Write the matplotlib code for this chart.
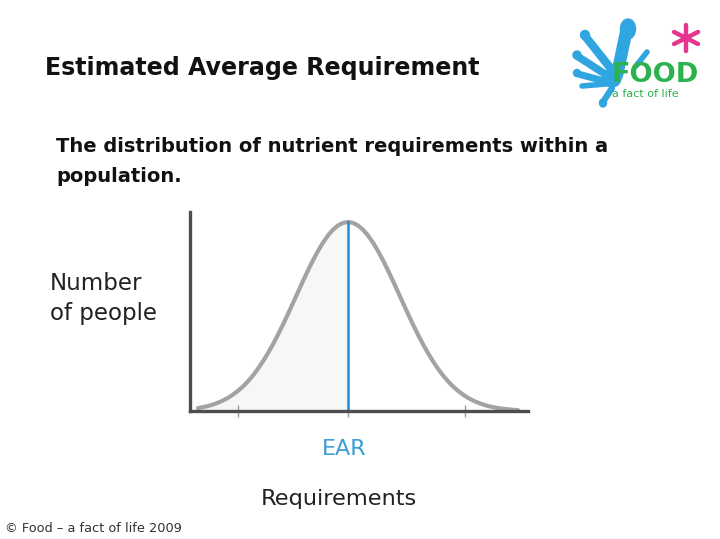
import matplotlib
matplotlib.use("Agg")
import matplotlib.pyplot as plt
from matplotlib.patches import Ellipse

# ---- data ----
# offset from EAR (arbitrary requirement units) and number of people (arbitrary units)
req = [-150, -145, -140, -135, -130, -125, -120, -115, -110, -105, -100, -95, -90, -85, -80, -75, -70, -65,
       -60, -55, -50, -45, -40, -35, -30, -25, -20, -15, -10, -5,
       0, 5, 10, 15, 20, 25, 30, 35, 40, 45, 50, 55, 60, 65, 70, 75, 80, 85, 90, 95,
       100, 105, 110, 115, 120, 125, 130, 135, 140, 145, 150, 155, 160, 165, 170]
people = [2.9, 3.9, 5.0, 6.5, 8.3, 10.5, 13.2, 16.4, 20.2, 24.6, 29.7, 35.6, 42.3, 49.7, 57.9, 66.8, 76.4, 86.5,
          97.1, 108.0, 119.0, 130.0, 140.6, 150.7, 160.0, 168.4, 175.5, 181.3, 185.5, 188.1,
          189.0, 188.1, 185.5, 181.3, 175.5, 168.4, 160.0, 150.7, 140.6, 130.0, 119.0, 108.0, 97.1, 86.5, 76.4,
          66.8, 57.9, 49.7, 42.3, 35.6,
          29.7, 24.6, 20.2, 16.4, 13.2, 10.5, 8.3, 6.5, 5.0, 3.9, 2.9, 2.2, 1.7, 1.2, 0.9]
ear_value = 0
tick_positions = [-110, 0, 117]

title = "Estimated Average Requirement"
subtitle_lines = ["The distribution of nutrient requirements within a", "population."]
ylabel_lines = ["Number", "of people"]
xlabel = "Requirements"
ear_label = "EAR"
copyright_text = "\u00a9 Food \u2013 a fact of life 2009"

W, H = 720, 539
fig = plt.figure(figsize=(W / 100, H / 100), dpi=100)
fig.patch.set_facecolor("white")

def fx(x):
    return x / W

def fy(y):
    return 1 - y / H

font = "DejaVu Sans"

# ---- main axes ----
ax = fig.add_axes([fx(190), fy(411), (528 - 190) / W, (411 - 212) / H])
ax.set_xlim(-158, 180)
ax.set_ylim(0, 199)
left_x = [r for r in req if r <= ear_value]
left_y = [p for r, p in zip(req, people) if r <= ear_value]
ax.fill_between(left_x, 0, left_y, color="#f7f7f7", zorder=1)
ax.plot(req, people, color="#a3a3a3", lw=3.0, solid_capstyle="round", solid_joinstyle="round",
        zorder=2, clip_on=False)
ax.plot([ear_value, ear_value], [0, people[req.index(ear_value)]], color="#1f8fd6", lw=1.8, zorder=3)

for s in ["top", "right"]:
    ax.spines[s].set_visible(False)
for s in ["left", "bottom"]:
    ax.spines[s].set_color("#4d4d4d")
    ax.spines[s].set_linewidth(2.4)
    ax.spines[s].set_zorder(4)
ax.set_xticks(tick_positions)
ax.set_xticklabels([])
ax.set_yticks([])
ax.tick_params(axis="x", direction="inout", length=8, width=1, color="#9a9a9a")

# ---- texts ----
fig.text(fx(45), fy(75), title, fontsize=17.1, fontweight="bold", family=font, color="#111111", va="baseline")
for i, line in enumerate(subtitle_lines):
    fig.text(fx(56), fy(152 + 30 * i), line, fontsize=14.0, fontweight="bold", family=font,
             color="#111111", va="baseline")
for i, line in enumerate(ylabel_lines):
    fig.text(fx(50), fy(290 + 30 * i), line, fontsize=16.5, family=font, color="#222222", va="baseline")
fig.text(fx(344), fy(455), ear_label, fontsize=16, family=font, color="#3a9fd8", ha="center", va="baseline")
fig.text(fx(339), fy(505), xlabel, fontsize=16.2, family=font, color="#222222", ha="center", va="baseline")
fig.text(fx(5), fy(532), copyright_text, fontsize=9.3, family=font, color="#333333", va="baseline")

# ---- logo ----
lg = fig.add_axes([fx(570), fy(112), 150 / W, 100 / H])
lg.set_xlim(570, 720)
lg.set_ylim(112, 12)
lg.axis("off")
blue = "#2fa6e0"
strokes = [((627, 28), (617, 75), 9), ((585, 36), (612, 70), 6), ((577, 56), (608, 76), 5.5),
           ((578, 74), (608, 82), 5), ((582, 86), (606, 84), 4), ((603, 102), (612, 88), 4.5),
           ((647, 52), (636, 66), 4)]
for (x0, y0), (x1, y1), w in strokes:
    lg.plot([x0, x1], [y0, y1], color=blue, lw=w, solid_capstyle="round")
lg.add_patch(Ellipse((628, 29), 15, 20, color=blue))
lg.add_patch(Ellipse((585, 35), 9, 9, color=blue))
lg.add_patch(Ellipse((577, 55), 8, 8, color=blue))
lg.add_patch(Ellipse((577, 73), 7, 7, color=blue))
lg.add_patch(Ellipse((603, 103), 7, 8, color=blue))
lg.add_patch(Ellipse((612, 78), 18, 18, color=blue))
lg.text(611, 82, "FOOD", fontsize=19.5, fontweight="bold", color="#2bb24c", family=font, va="baseline")
lg.text(612, 97, "a fact of life", fontsize=8, color="#2bb24c", family=font, va="baseline")
# pink asterisk drawn as spokes
pink = "#e6358e"
cx, cy = 686, 38
spokes = [((cx, cy - 13), (cx, cy + 13)), ((cx - 12, cy - 6), (cx + 12, cy + 6)),
          ((cx - 12, cy + 6), (cx + 12, cy - 6))]
for (x0, y0), (x1, y1) in spokes:
    lg.plot([x0, x1], [y0, y1], color=pink, lw=3.2, solid_capstyle="round")
lg.add_patch(Ellipse((cx, cy), 7, 7, color=pink))

fig.savefig("out.png", dpi=100, facecolor="white")
